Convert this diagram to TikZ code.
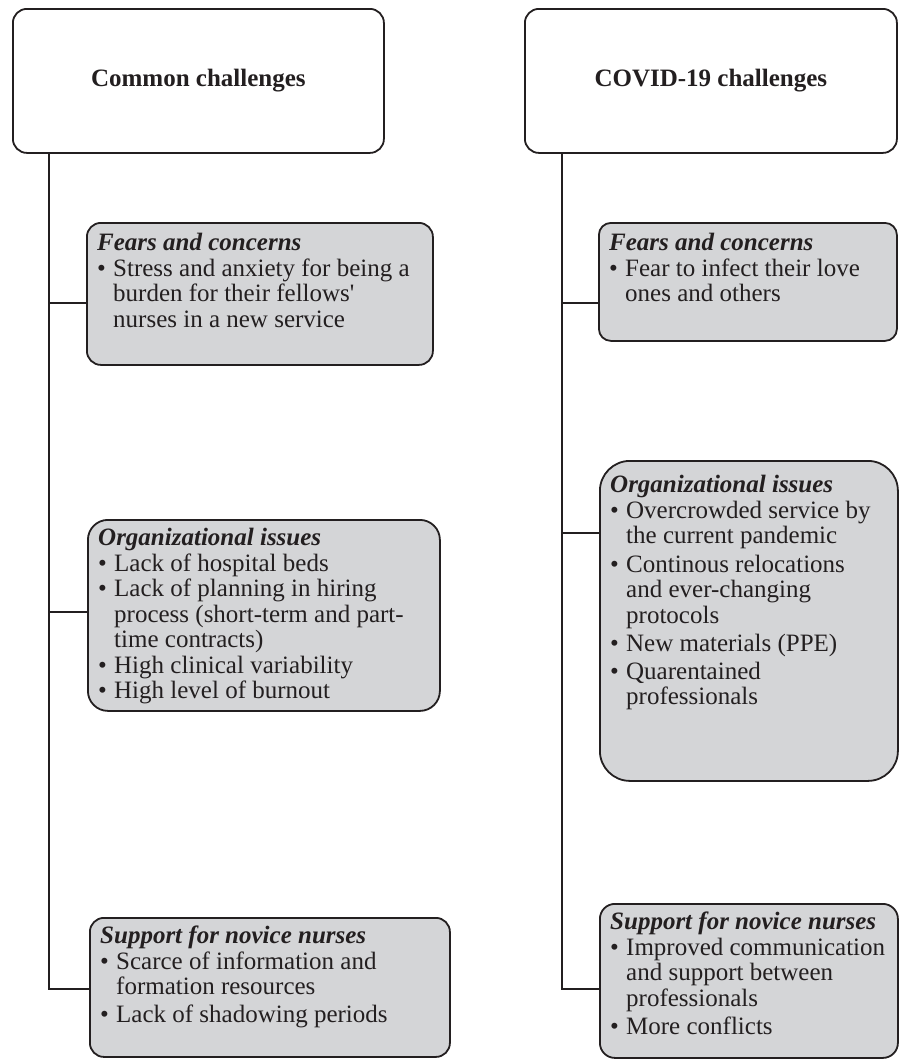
\documentclass[tikz,border=0pt]{standalone}
\usepackage{fontspec}
\setmainfont{Liberation Serif}
\usetikzlibrary{calc}
\definecolor{boxgray}{RGB}{212,213,215}
\definecolor{ink}{RGB}{35,31,32}
\newcommand{\bu}{\makebox[16pt][l]{\textbullet}}
\newcommand{\ind}{\hspace*{16pt}}
\begin{document}
\begin{tikzpicture}[x=1pt,y=-1pt,
  hdr/.style={draw=ink, line width=1.8pt, fill=white, anchor=north west, inner sep=0pt, rounded corners=14pt, font=\fontsize{25}{28}\selectfont\bfseries, text=ink},
  gbox/.style={draw=ink, line width=1.8pt, fill=boxgray, anchor=north west, inner sep=0pt},
  txt/.style={anchor=north west, inner sep=0pt, align=left, font=\fontsize{25}{25.5}\selectfont, text=ink},
  conn/.style={draw=ink, line width=1.8pt}]
\useasboundingbox (0,0) rectangle (898,1063);
% headers
\node[hdr, minimum width=371pt, minimum height=144pt] (h1) at (12,8) {Common challenges};
\node[hdr, minimum width=372pt, minimum height=144pt] (h2) at (524,8) {COVID-19 challenges};
% left column boxes
\node[gbox, rounded corners=14pt, minimum width=346pt, minimum height=142pt] (l1) at (86,222) {};
\node[gbox, rounded corners=20pt, minimum width=352pt, minimum height=191pt] (l2) at (87,519) {};
\node[gbox, rounded corners=14pt, minimum width=360pt, minimum height=139pt] (l3) at (89,917) {};
% right column boxes
\node[gbox, rounded corners=12pt, minimum width=298pt, minimum height=118pt] (r1) at (598,222) {};
\node[gbox, rounded corners=30pt, minimum width=298pt, minimum height=320pt] (r2) at (599,460) {};
\node[gbox, rounded corners=15pt, minimum width=298pt, minimum height=154pt] (r3) at (599,903) {};
% texts
\node[txt] (l1t) at ($(l1.north west)+(11,11)$) {\textbf{\textit{Fears and concerns}}\\
\bu Stress and anxiety for being a\\
\ind burden for their fellows\textquotesingle\\
\ind nurses in a new service};
\node[txt] (l2t) at ($(l2.north west)+(11,9)$) {\textbf{\textit{Organizational issues}}\\
\bu Lack of hospital beds\\
\bu Lack of planning in hiring\\
\ind process (short-term and part-\\
\ind time contracts)\\
\bu High clinical variability\\
\bu High level of burnout};
\node[txt] (l3t) at ($(l3.north west)+(11,9)$) {\textbf{\textit{Support for novice nurses}}\\
\bu Scarce of information and\\
\ind formation resources\\[2pt]
\bu Lack of shadowing periods};
\node[txt] (r1t) at ($(r1.north west)+(11,11)$) {\textbf{\textit{Fears and concerns}}\\
\bu Fear to infect their love\\
\ind ones and others};
\node[txt] (r2t) at ($(r2.north west)+(11,15)$) {\textbf{\textit{Organizational issues}}\\
\bu Overcrowded service by\\
\ind the current pandemic\\[3pt]
\bu Continous relocations\\
\ind and ever-changing\\
\ind protocols\\[3pt]
\bu New materials (PPE)\\[2pt]
\bu Quarentained\\
\ind professionals};
\node[txt] (r3t) at ($(r3.north west)+(11,9)$) {\textbf{\textit{Support for novice nurses}}\\
\bu Improved communication\\
\ind and support between\\
\ind professionals\\[3pt]
\bu More conflicts};
% connector levels
\coordinate (tl) at (49,0);
\coordinate (tr) at (562,0);
\coordinate (yl1) at (0,303);
\coordinate (yl2) at (0,612);
\coordinate (yl3) at (0,989);
\coordinate (yr1) at (0,303);
\coordinate (yr2) at (0,533);
\coordinate (yr3) at (0,989);
% connectors
\draw[conn] (h1.south -| tl) |- (l3.west |- yl3);
\draw[conn] (tl |- yl1) -- (l1.west |- yl1);
\draw[conn] (tl |- yl2) -- (l2.west |- yl2);
\draw[conn] (h2.south -| tr) |- (r3.west |- yr3);
\draw[conn] (tr |- yr1) -- (r1.west |- yr1);
\draw[conn] (tr |- yr2) -- (r2.west |- yr2);
\end{tikzpicture}
\end{document}
